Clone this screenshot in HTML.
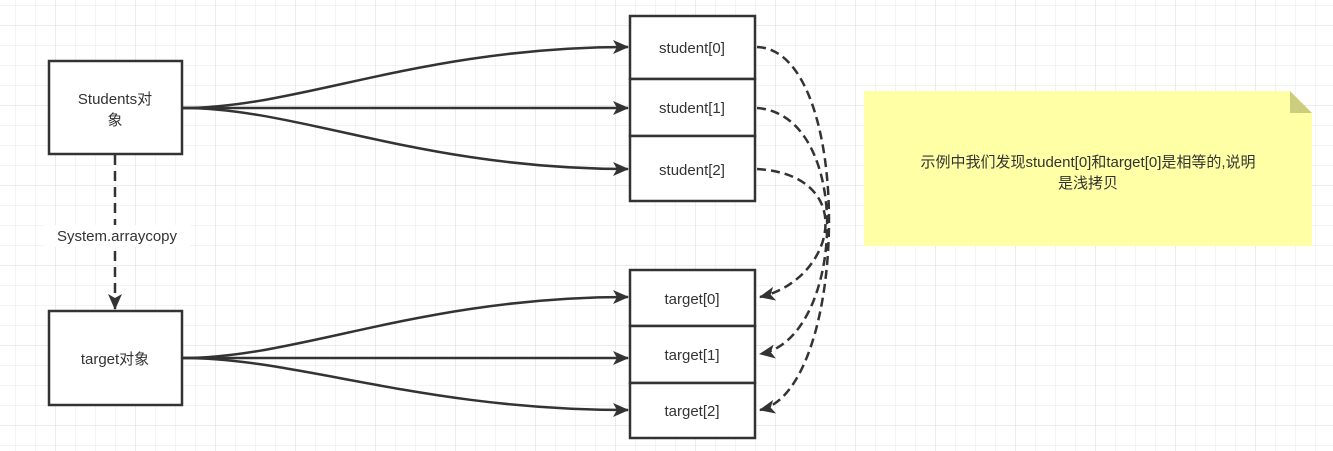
<!DOCTYPE html>
<html><head><meta charset="utf-8"><style>
html,body{margin:0;padding:0;background:#fff;}
svg{display:block;}
text{font-family:"Liberation Sans","Noto Sans CJK SC",sans-serif;font-size:15px;fill:#333;}
</style></head><body>
<svg width="1333" height="451" viewBox="0 0 1333 451" xmlns="http://www.w3.org/2000/svg">
<defs>
<pattern id="g" width="20" height="20" patternUnits="userSpaceOnUse" x="15" y="5">
<path d="M0 0H20M0 0V20" stroke="#e8e8e8" stroke-width="1" fill="none"/>
</pattern>
<pattern id="G" width="80" height="80" patternUnits="userSpaceOnUse" x="55" y="25">
<path d="M0 0H80M0 0V80" stroke="#dadada" stroke-width="1" fill="none"/>
</pattern>
<marker id="b" markerWidth="16" markerHeight="14" refX="15" refY="7" orient="auto" markerUnits="userSpaceOnUse">
<path d="M0 0L16 7L0 14L4 7Z" fill="#333"/>
</marker>
</defs>
<rect width="1333" height="451" fill="url(#g)"/>
<rect width="1333" height="451" fill="url(#G)"/>

<g stroke="#333" stroke-width="2.5" fill="none">
<path d="M183 108 C300 108 420 47 628 47" marker-end="url(#b)"/>
<path d="M183 108 L628 108" marker-end="url(#b)"/>
<path d="M183 108 C300 108 420 169 628 169" marker-end="url(#b)"/>
<path d="M183 358 C300 358 420 297 628 297" marker-end="url(#b)"/>
<path d="M183 358 L628 358" marker-end="url(#b)"/>
<path d="M183 358 C300 358 420 410 628 410" marker-end="url(#b)"/>
<path d="M115 155 L115 309" stroke-dasharray="10 6" marker-end="url(#b)"/>
<path d="M757 47 C855 50 850 390 760 410" stroke-dasharray="9 5" marker-end="url(#b)"/>
<path d="M757 108 C855 115 845 340 760 354" stroke-dasharray="9 5" marker-end="url(#b)"/>
<path d="M757 169 C860 175 835 280 760 297" stroke-dasharray="9 5" marker-end="url(#b)"/>
</g>

<rect x="44" y="225" width="146" height="22" fill="#fff"/>
<text x="117" y="241" text-anchor="middle">System.arraycopy</text>

<g stroke="#333" stroke-width="2.5" fill="#fff">
<rect x="49" y="61" width="133" height="93"/>
<rect x="49" y="311" width="133" height="94"/>
<rect x="630" y="16" width="125" height="63"/>
<rect x="630" y="79" width="125" height="57"/>
<rect x="630" y="136" width="125" height="65"/>
<rect x="630" y="270" width="125" height="56"/>
<rect x="630" y="326" width="125" height="57"/>
<rect x="630" y="383" width="125" height="55"/>
</g>
<text x="115" y="104" text-anchor="middle">Students对</text>
<text x="115" y="125" text-anchor="middle">象</text>
<text x="115" y="364" text-anchor="middle">target对象</text>
<text x="692" y="53" text-anchor="middle">student[0]</text>
<text x="692" y="113" text-anchor="middle">student[1]</text>
<text x="692" y="175" text-anchor="middle">student[2]</text>
<text x="692" y="304" text-anchor="middle">target[0]</text>
<text x="692" y="360" text-anchor="middle">target[1]</text>
<text x="692" y="416" text-anchor="middle">target[2]</text>

<path d="M864 91 H1290 L1312 113 V246 H864 Z" fill="#ffffa5"/>
<path d="M1290 91 L1312 113 H1290 Z" fill="#cdcd7e"/>
<text x="1088" y="167" text-anchor="middle">示例中我们发现student[0]和target[0]是相等的,说明</text>
<text x="1088" y="188" text-anchor="middle">是浅拷贝</text>
</svg>
</body></html>
